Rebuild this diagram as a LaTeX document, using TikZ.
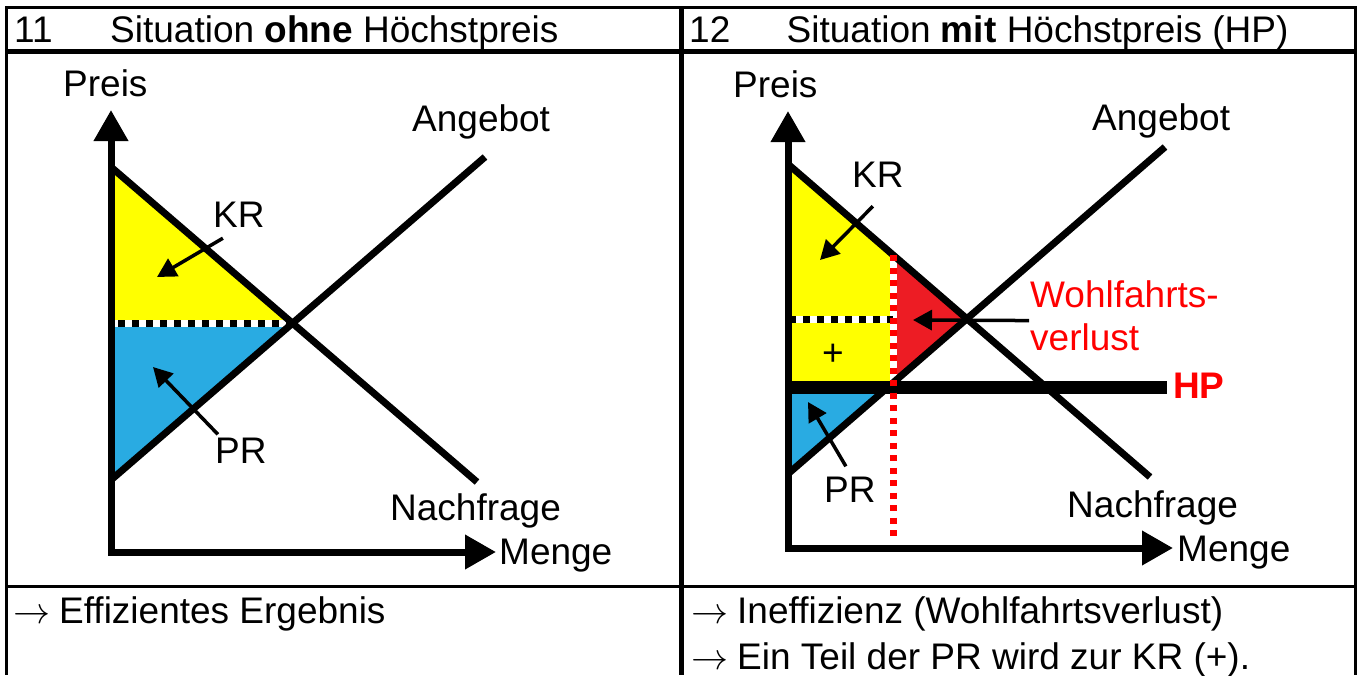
\documentclass[tikz,border=0pt]{standalone}
\usepackage{fix-cm}
\usepackage{fontspec}
\setmainfont{Liberation Sans}
\usetikzlibrary{arrows.meta}

\definecolor{gelb}{RGB}{255,255,0}
\definecolor{blau}{RGB}{41,171,226}
\definecolor{rotfl}{RGB}{237,28,36}
\definecolor{rot}{RGB}{255,0,0}
\newcommand{\pf}{\makebox[46pt][l]{$\rightarrow$}}

\begin{document}
\begin{tikzpicture}[x=1pt, y=-1pt,
    lbl/.style = {inner sep=0pt, anchor=base west, font=\fontsize{37}{44}\selectfont},
    kurve/.style = {line width=7pt},
    achse/.style = {line width=7pt, {Triangle[length=31pt,width=33pt]}-{Triangle[length=31pt,width=33pt]}},
    zeiger/.style = {line width=3.5pt, -{Triangle[length=19pt,width=20pt]}},
    punkte/.style = {line width=7pt, dash pattern=on 7pt off 7pt},
    rpunkte/.style = {line width=7pt, rot, dash pattern=on 6pt off 6.5pt},
    rahmen/.style = {line width=3pt},
    trenn/.style = {line width=5pt}]
    \useasboundingbox (0,0) rectangle (1362,675);

    % Tabelle
    \draw[rahmen] (5,7) -- (1356.5,7);
    \draw[rahmen] (6.5,7) -- (6.5,675);
    \draw[rahmen] (1355,7) -- (1355,675);
    \draw[trenn] (6.5,51) -- (1355,51);
    \draw[trenn] (681.5,7) -- (681.5,675);
    \draw[rahmen] (6.5,586) -- (1355,586);

    \node[lbl] (nr1) at (14,42) {11};
    \node[lbl] (titel1) at (110,42) {Situation \textbf{ohne} Höchstpreis};
    \node[lbl] (nr2) at (689,42) {12};
    \node[lbl] (titel2) at (786.5,42) {Situation \textbf{mit} Höchstpreis (HP)};

    % ohne Hoechstpreis
    \coordinate (ltop) at (111,110);
    \coordinate (lnull) at (111,552);
    \coordinate (lrechts) at (496,552);
    \coordinate (ln1) at (111,167);
    \coordinate (ln2) at (477,482);
    \coordinate (la1) at (111,480);
    \coordinate (la2) at (485,157);
    \coordinate (lgg) at (292,323);
    \coordinate (lp) at (111,323);
    \fill[gelb] (ln1) -- (lgg) -- (lp) -- cycle;
    \fill[blau] (lp) -- (lgg) -- (la1) -- cycle;
    \draw[line width=7pt, white] (lp) -- (lgg);
    \draw[punkte, dash phase=7pt] (lp) -- (lgg);
    \draw[kurve] (ln1) -- (ln2);
    \draw[kurve] (la1) -- (la2);
    \draw[achse] (ltop) -- (lnull) -- (lrechts);

    \node[lbl] (preis1) at (63,96) {Preis};
    \node[lbl] (angebot1) at (412,131) {Angebot};
    \node[lbl] (nachfrage1) at (390,520) {Nachfrage};
    \node[lbl] (menge1) at (499,564) {Menge};
    \node[lbl] (kr1) at (213,227) {KR};
    \node[lbl] (pr1) at (215,463) {PR};
    \coordinate (krz1) at (157,277);
    \coordinate (prz1) at (153,367);
    \draw[zeiger] ([shift={(-16,11)}]kr1.south) -- (krz1);
    \draw[zeiger] ([shift={(-23,-3)}]pr1.north) -- (prz1);

    % mit Hoechstpreis
    \coordinate (rtop) at (788,111);
    \coordinate (rnull) at (788,548);
    \coordinate (rrechts) at (1173,548);
    \coordinate (rn1) at (789,165);
    \coordinate (rn2) at (1150,477);
    \coordinate (ra1) at (789,473);
    \coordinate (ra2) at (1165,147);
    \coordinate (rgg) at (967,319);
    \coordinate (rp) at (789,319);
    \coordinate (rq) at (893,319);
    \coordinate (hpl) at (789,387);
    \coordinate (hpr) at (1167,387);
    \coordinate (hpn) at (893,255);
    \coordinate (hpa) at (888,387);
    \coordinate (hpo) at (893,381);
    \coordinate (hps) at (893,383);
    \coordinate (hpu) at (893,537);
    \fill[gelb] (rn1) -- (hpn) -- (893,387) -- (hpl) -- cycle;
    \fill[rotfl] (hpn) -- (rgg) -- (hps) -- cycle;
    \fill[blau] (hpl) -- (hpa) -- (ra1) -- cycle;
    \draw[line width=7pt, white] (hpn) -- (hpo);
    \draw[line width=7pt, white] (rp) -- (rq);
    \draw[punkte] (rp) -- (rq);
    \draw[kurve] (rn1) -- (rn2);
    \draw[kurve] (ra1) -- (ra2);
    \draw[line width=13pt] (hpl) -- (hpr);
    \draw[rpunkte] (hpn) -- (hpu);
    \draw[achse] (rtop) -- (rnull) -- (rrechts);

    \node[lbl] (preis2) at (733,97) {Preis};
    \node[lbl] (angebot2) at (1092,130) {Angebot};
    \node[lbl] (nachfrage2) at (1067,517) {Nachfrage};
    \node[lbl] (menge2) at (1177,561) {Menge};
    \node[lbl] (kr2) at (852,187) {KR};
    \node[lbl] (pr2) at (824,502) {PR};
    \node[lbl] (plus) at (822,365) {+};
    \node[lbl, text=rot] (wf1) at (1030,307) {Wohlfahrts-};
    \node[lbl, text=rot] (wf2) at (1030,350) {verlust};
    \node[lbl, text=rot, font=\fontsize{37}{44}\selectfont\bfseries] (hp) at (1173,398) {HP};
    \coordinate (krz2) at (820,260);
    \coordinate (prz2) at (808,402);
    \coordinate (wfz) at (913,320);
    \draw[zeiger] ([shift={(-5,19)}]kr2.south) -- (krz2);
    \draw[zeiger] ([shift={(-4,-10)}]pr2.north) -- (prz2);
    \draw[zeiger] ([shift={(-1,13)}]wf1.south west) -- (wfz);

    % Ergebnis
    \node[lbl] (erg1) at (13,623) {\pf Effizientes Ergebnis};
    \node[lbl] (erg2) at (691,623) {\pf Ineffizienz (Wohlfahrtsverlust)};
    \node[lbl] (erg3) at (691,669) {\pf Ein Teil der PR wird zur KR (+).};
\end{tikzpicture}
\end{document}
